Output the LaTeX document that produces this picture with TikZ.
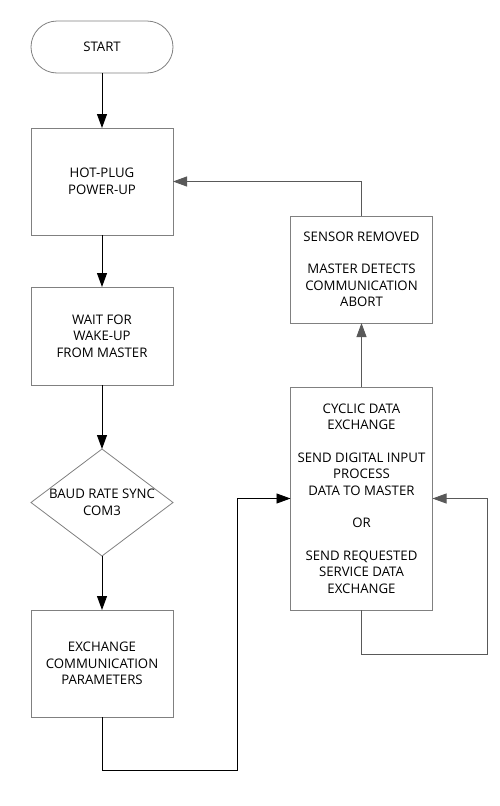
\documentclass[tikz,border=0pt]{standalone}
\usepackage{fontspec}
\setmainfont{Open Sans}
\usepackage{tikz}
\usetikzlibrary{arrows.meta,positioning,shapes.geometric,shapes.misc}

\begin{document}
\begin{tikzpicture}
[arr/.style={-{Triangle[length=14pt,width=10pt]}, line width=0.9pt, draw=black},
back/.style={-{Triangle[length=14pt,width=10pt]}, line width=0.9pt, draw=black!65},
box/.style={draw=black!50, line width=0.8pt, rectangle, minimum width=142pt, inner sep=0pt, outer sep=0pt, align=center, font=\fontsize{13.2}{16.5}\selectfont},
term/.style={box, rounded rectangle, minimum height=52pt},
test/.style={box, diamond, aspect=1.33, minimum width=142pt, minimum height=107pt},
node distance=55pt
]
  \useasboundingbox (0,0) rectangle (500pt,-806pt);

  \node[term]                      (start)    at (102pt,-47pt) {START};
  \node[box, minimum height=107pt] (hotplug)  [below=55pt of start]   {HOT-PLUG\\POWER-UP};
  \node[box, minimum height=98pt]  (wait)     [below=52pt of hotplug] {WAIT FOR\\WAKE-UP\\FROM MASTER};
  \node[test]                      (sync)     [below=64pt of wait]    {BAUD RATE SYNC\\COM3};
  \node[box, minimum height=107pt] (exchange) [below=54pt of sync]    {EXCHANGE\\COMMUNICATION\\PARAMETERS};
  \node[box, minimum height=223pt] (cyclic)   at (361.5pt,-498.5pt)
        {CYCLIC DATA\\EXCHANGE\\[16pt]SEND DIGITAL INPUT\\PROCESS\\DATA TO MASTER\\[16pt]OR\\[16pt]SEND REQUESTED\\SERVICE DATA\\EXCHANGE};
  \node[box, minimum height=107pt] (sensor)   [above=64pt of cyclic]
        {SENSOR REMOVED\\[16pt]MASTER DETECTS\\COMMUNICATION\\ABORT};

  \coordinate (turn) at (237pt,-770pt);
  \coordinate (loop) at (487pt,-654pt);

  \draw[arr] (start) -- (hotplug);
  \draw[arr] (hotplug) -- (wait);
  \draw[arr] (wait) -- (sync);
  \draw[arr] (sync) -- (exchange);
  \draw[arr] (exchange.south) |- (turn) |- (cyclic.west);
  \draw[back] (cyclic) -- (sensor);
  \draw[back] (sensor.north) |- (hotplug.east);
  \draw[back] (cyclic.south) |- (loop) |- (cyclic.east);
\end{tikzpicture}
\end{document}
